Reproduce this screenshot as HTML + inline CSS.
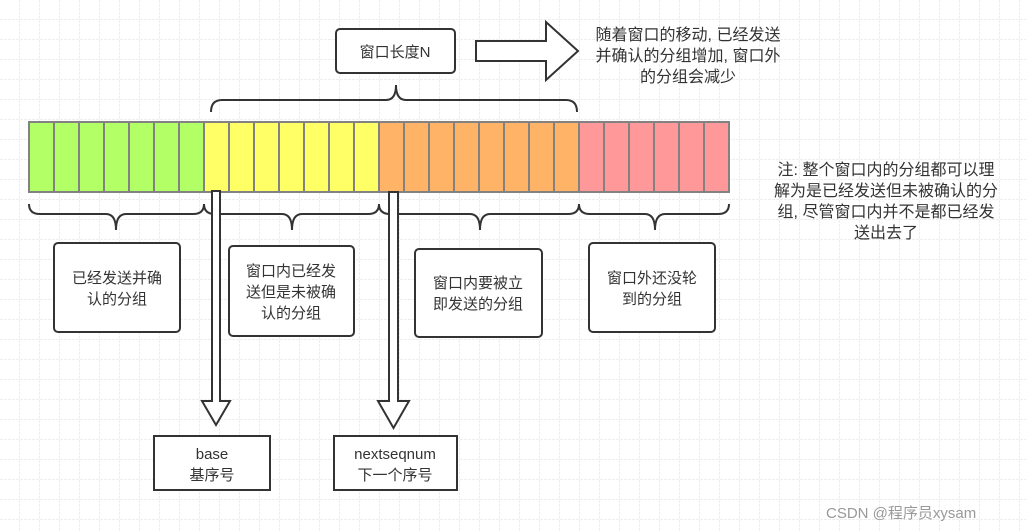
<!DOCTYPE html>
<html><head><meta charset="utf-8"><style>
html,body{margin:0;padding:0;background:#fff;}
svg{display:block;}
text{font-family:"Liberation Sans","Noto Sans CJK SC",sans-serif;fill:#333;font-size:15px;}
.b{font-size:16px;}
</style></head><body>
<svg width="1026" height="531" viewBox="0 0 1026 531" xmlns="http://www.w3.org/2000/svg">
<defs>
<pattern id="g" width="20" height="20" patternUnits="userSpaceOnUse">
<path d="M20 0V20M0 20H20" fill="none" stroke="#dcdcdc" stroke-width="1" stroke-dasharray="3,1"/>
</pattern>
</defs>
<rect width="1026" height="531" fill="url(#g)"/>
<g stroke="#828282" stroke-width="2">
<rect x="29" y="122" width="175" height="70" fill="#b3ff66"/>
<rect x="204" y="122" width="175" height="70" fill="#ffff66"/>
<rect x="379" y="122" width="200" height="70" fill="#ffb366"/>
<rect x="579" y="122" width="150" height="70" fill="#ff9999"/>
<path d="M54 122V192M79 122V192M104 122V192M129 122V192M154 122V192M179 122V192M229 122V192M254 122V192M279 122V192M304 122V192M329 122V192M354 122V192M404 122V192M429 122V192M454 122V192M479 122V192M504 122V192M529 122V192M554 122V192M604 122V192M629 122V192M654 122V192M679 122V192M704 122V192"/>
</g>
<g fill="none" stroke="#333" stroke-width="2">
<path d="M211 112Q211 100 222 100H386Q396 100 396 85Q396 100 406 100H566Q577 100 577 112"/>
<path d="M29 204Q29 214 40 214H106Q116 214 116 230Q116 214 126 214H193Q204 214 204 204"/>
<path d="M204 204Q204 214 215 214H282Q292 214 292 230Q292 214 302 214H368Q379 214 379 204"/>
<path d="M379 204Q379 214 390 214H470Q480 214 480 230Q480 214 490 214H568Q579 214 579 204"/>
<path d="M579 204Q579 214 590 214H645Q655 214 655 230Q655 214 665 214H718Q729 214 729 204"/>
</g>
<g fill="#fff" stroke="#333" stroke-width="2">
<path d="M212 191H220V401H230L216 425L202 401H212Z"/>
<path d="M389 192H398V401H409L393.5 428L378 401H389Z"/>
<path d="M476 41H546V22L578 51L546 80V61H476Z"/>
<rect x="336" y="29" width="119" height="44" rx="4"/>
<rect x="54" y="243" width="126" height="89" rx="4"/>
<rect x="229" y="246" width="125" height="90" rx="4"/>
<rect x="415" y="249" width="127" height="88" rx="4"/>
<rect x="589" y="243" width="126" height="89" rx="4"/>
<rect x="154" y="436" width="116" height="54"/>
<rect x="334" y="436" width="123" height="54"/>
</g>
<g text-anchor="middle">
<text x="395" y="57">窗口长度N</text>
<text x="117" y="283">已经发送并确</text><text x="117" y="304">认的分组</text>
<text x="291" y="276">窗口内已经发</text><text x="291" y="297">送但是未被确</text><text x="291" y="318">认的分组</text>
<text x="478" y="288">窗口内要被立</text><text x="478" y="309">即发送的分组</text>
<text x="652" y="283">窗口外还没轮</text><text x="652" y="304">到的分组</text>
<text x="212" y="459">base</text><text x="212" y="480">基序号</text>
<text x="395" y="459">nextseqnum</text><text x="395" y="480">下一个序号</text>
<text class="b" x="688" y="40">随着窗口的移动, 已经发送</text>
<text class="b" x="688" y="61">并确认的分组增加, 窗口外</text>
<text class="b" x="688" y="82">的分组会减少</text>
<text class="b" x="886" y="175">注: 整个窗口内的分组都可以理</text>
<text class="b" x="886" y="196">解为是已经发送但未被确认的分</text>
<text class="b" x="886" y="217">组, 尽管窗口内并不是都已经发</text>
<text class="b" x="886" y="238">送出去了</text>
</g>
<text x="826" y="518" style="font-size:15px;fill:#999">CSDN @程序员xysam</text>
</svg>
</body></html>
